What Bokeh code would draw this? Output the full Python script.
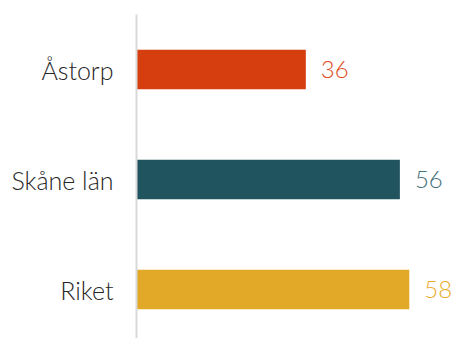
from bokeh.plotting import figure
from bokeh.models import ColumnDataSource, Range1d, FixedTicker
from bokeh.core.properties import value
from bokeh.embed import file_html
from bokeh.resources import INLINE

categories = ["Riket", "Skåne län", "Åstorp"]
values = [58, 56, 36]
bar_colors = ["#E2A828", "#20545E", "#D63E0F"]
label_colors = ["#E9AB2E", "#41717A", "#E04A22"]

pos = list(range(len(categories)))
src = ColumnDataSource(dict(y=pos, v=values, c=bar_colors, lc=label_colors,
                            t=[str(v) for v in values]))

FONT = "Lato Light"

p = figure(width=453, height=338, output_backend="svg", toolbar_location=None,
           x_range=Range1d(0, 67.4), y_range=Range1d(-0.445, 2.5),
           x_axis_location=None, min_border_left=136, min_border_right=0,
           min_border_top=14, min_border_bottom=0)
p.outline_line_color = None
p.grid.visible = False
p.background_fill_color = "white"
p.border_fill_color = "white"

p.hbar(y="y", right="v", left=0, height=0.36, color="c", source=src,
       line_color=None)

p.text(x="v", y="y", text="t", source=src, x_offset=15,
       text_align="left", text_baseline="middle",
       text_color="lc", text_font_size="24px", text_font=value(FONT))

ax = p.yaxis[0]
ax.ticker = FixedTicker(ticks=pos)
ax.major_label_overrides = {i: c for i, c in zip(pos, categories)}
ax.major_tick_line_color = None
ax.minor_tick_line_color = None
ax.axis_line_color = "#D9D9D9"
ax.axis_line_width = 2
ax.major_label_standoff = 17
ax.major_label_text_font = FONT
ax.major_label_text_font_size = "25px"
ax.major_label_text_color = "#262626"

open("out.html", "w").write(file_html(p, INLINE))
